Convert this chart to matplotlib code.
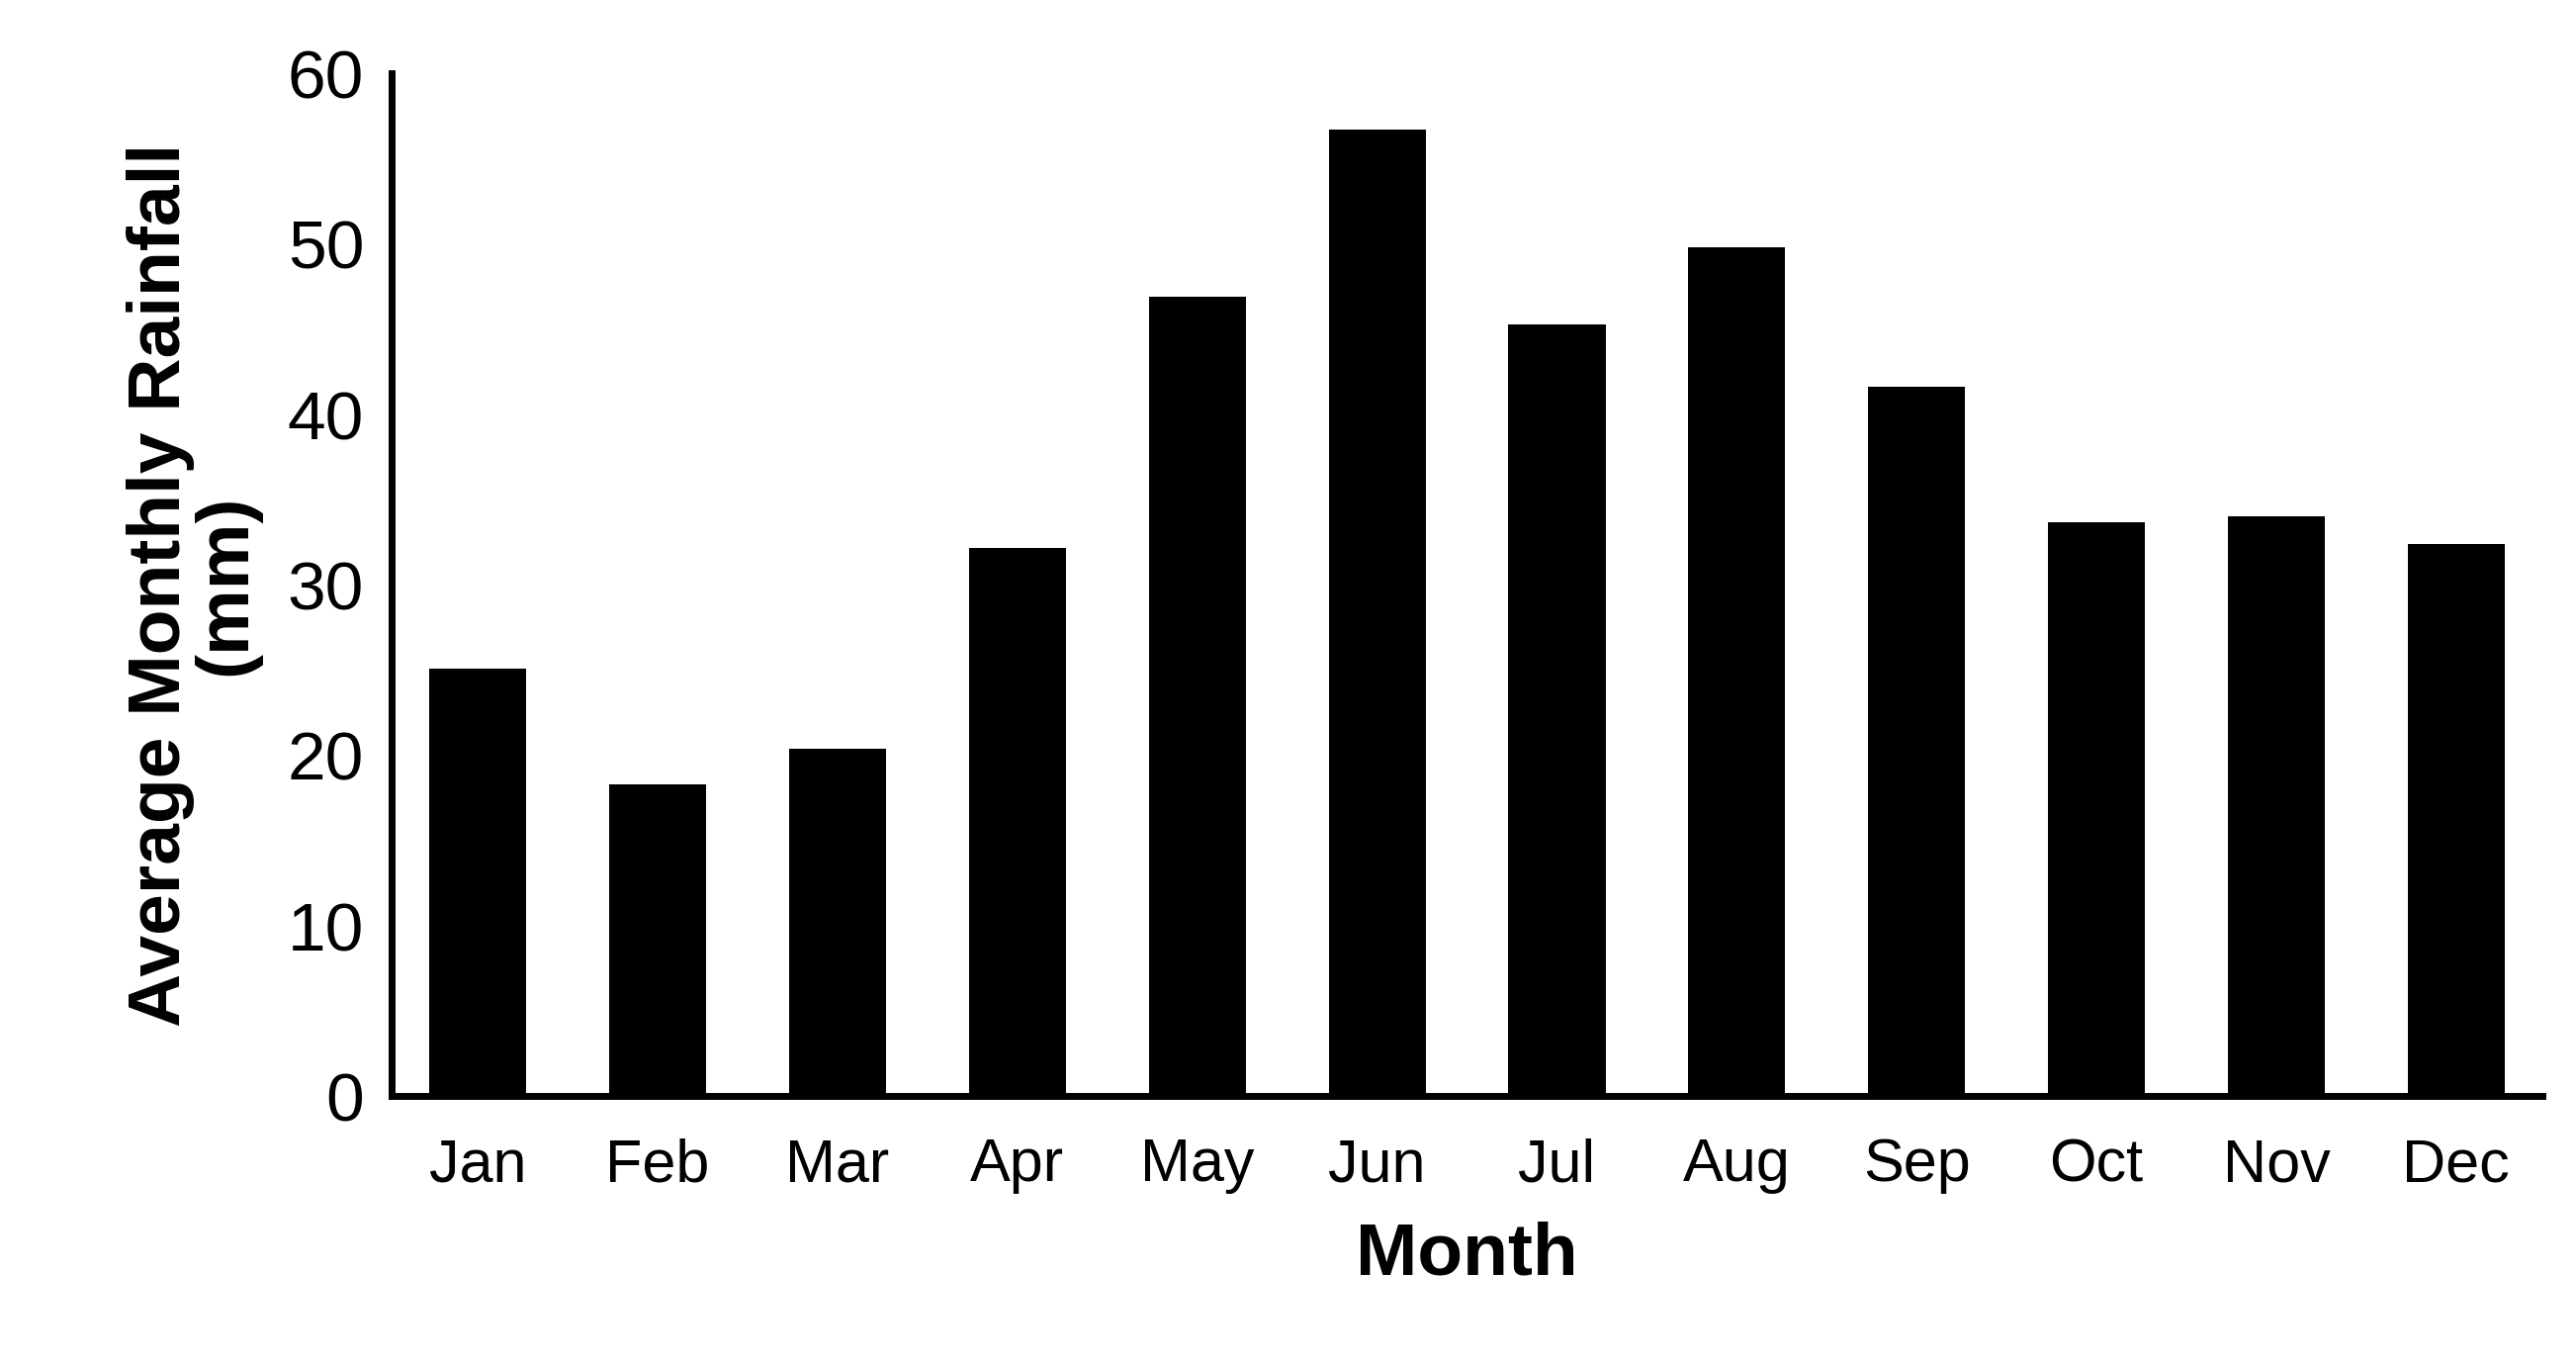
import matplotlib.pyplot as plt

months = ["Jan", "Feb", "Mar", "Apr", "May", "Jun", "Jul", "Aug", "Sep", "Oct", "Nov", "Dec"]
rainfall = [25.1, 18.3, 20.4, 32.2, 46.9, 56.7, 45.3, 49.8, 41.6, 33.7, 34.0, 32.4]

plt.rcParams['font.family'] = ['Liberation Sans', 'DejaVu Sans']

fig = plt.figure(figsize=(26.05, 13.77), dpi=100)
ax = fig.add_axes([0.152, 0.195, 0.835, 0.751])
ax.bar(range(len(months)), rainfall, width=0.54, color="black")
ax.set_xlim(-0.48, 11.48)
ax.set_ylim(0, 60)
ax.set_yticks(range(0, 61, 10))
ax.set_xticks(range(len(months)))
ax.set_xticklabels(months, fontsize=44)
ax.tick_params(axis='y', labelsize=50, length=0, pad=20)
ax.tick_params(axis='x', length=0, pad=30)
for s in ["top", "right"]:
    ax.spines[s].set_visible(False)
for s in ["left", "bottom"]:
    ax.spines[s].set_linewidth(5)
ax.set_xlabel("Month", fontsize=54, fontweight="bold", labelpad=20)
ax.set_ylabel("Average Monthly Rainfall\n(mm)", fontsize=54, fontweight="bold", labelpad=20, linespacing=0.95)
fig.savefig("out.png")
